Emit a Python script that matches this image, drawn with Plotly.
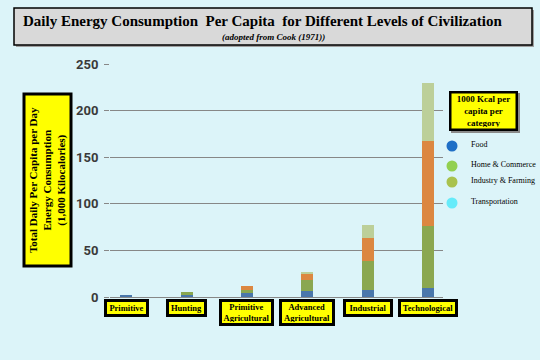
import plotly.graph_objects as go

categories = ["Primitive", "Hunting", "Primitive<br>Agricultural", "Advanced<br>Agricultural",
              "Industrial", "Technological"]
cat_keys = ["Primitive", "Hunting", "Primitive Agricultural", "Advanced Agricultural",
            "Industrial", "Technological"]
series_names = ["Food", "Home & Commerce", "Industry & Farming", "Transportation"]
food = [2, 3, 4, 6, 7, 10]
home_commerce = [0, 2, 4, 12, 32, 66]
industry_farming = [0, 0, 4, 7, 24, 91]
transportation = [0, 0, 0, 1, 14, 63]
y_ticks = [0, 50, 100, 150, 200, 250]

bar_colors = ["#4a77ab", "#8aa750", "#dc8741", "#bccf99"]
legend_colors = ["#1f6fc6", "#92d050", "#a9c24e", "#66ebfa"]
BG = "#dcf4f9"
SERIF = "Liberation Serif, Times New Roman, serif"

# pixel helpers (plot area: x 110..443, y 64..297)
L, R, T, B = 110, 443, 64, 297
def px(x):
    return (x - L) / (R - L)
def py(y):
    return (B - y) / (B - T)

fig = go.Figure()
for name, vals, col in zip(series_names, [food, home_commerce, industry_farming, transportation], bar_colors):
    fig.add_trace(go.Bar(x=cat_keys, y=vals, name=name, marker=dict(color=col, line=dict(width=0)),
                         width=0.2, showlegend=False, hoverinfo="skip"))

shapes = []
annotations = []

def ann(**kw):
    kw.setdefault("xanchor", "center")
    kw.setdefault("yanchor", "middle")
    kw.setdefault("showarrow", False)
    annotations.append(kw)

# title box with shadow
shapes.append(dict(type="rect", xref="paper", yref="paper", x0=px(16), x1=px(534), y0=py(47), y1=py(10),
                   fillcolor="#a0a0a0", line=dict(width=0), layer="below"))
shapes.append(dict(type="rect", xref="paper", yref="paper", x0=px(14), x1=px(532), y0=py(45), y1=py(8),
                   fillcolor="#d9d9d9", line=dict(color="black", width=1.5), layer="below"))
ann(xref="paper", yref="paper", x=px(262), y=py(21),
    text="Daily Energy Consumption  Per Capita  for Different Levels of Civilization",
    font=dict(family=SERIF, size=15, color="black", weight="bold"))
ann(xref="paper", yref="paper", x=px(273), y=py(37),
    text="(adopted from Cook (1971))",
    font=dict(family=SERIF, size=9, color="black", weight="bold", style="italic"))

# y-axis title box
ann(xref="paper", yref="paper", x=px(47), y=py(180.5),
    textangle=-90, width=167, height=42, bgcolor="#ffff00", bordercolor="black",
    borderwidth=3, borderpad=1,
    text="Total Daily Per Capita per Day<br>Energy Consumption<br>(1,000 Kilocalories)",
    font=dict(family=SERIF, size=11, color="black", weight="bold"))

# category label boxes
box_w = [45, 41, 55, 56, 50, 60]
box_h = [18, 18, 27, 27, 18, 18]
for cat, lab, w, h in zip(cat_keys, categories, box_w, box_h):
    ann(xref="x", yref="paper", x=cat, y=py(299), yanchor="top",
        width=w - 8, height=h - 8, bgcolor="#ffff00", bordercolor="black",
        borderwidth=3, borderpad=1, text=lab,
        font=dict(family=SERIF, size=8.5, color="black", weight="bold"))

# legend title box
shapes.append(dict(type="rect", xref="paper", yref="paper", x0=px(451), x1=px(520), y0=py(133), y1=py(93),
                   fillcolor="#8a8a8a", line=dict(width=0)))
ann(xref="paper", yref="paper", x=px(483.5), y=py(111),
    width=61, height=32, bgcolor="#ffff00", bordercolor="black",
    borderwidth=2.5, borderpad=1.5,
    text="1000 Kcal per<br>capita per<br>category",
    font=dict(family=SERIF, size=9, color="black", weight="bold"))

# custom legend
leg_y = [146, 166, 182, 203]
for name, col, yy in zip(series_names, legend_colors, leg_y):
    shapes.append(dict(type="circle", xref="paper", yref="paper", x0=px(446.5), x1=px(457.5),
                       y0=py(yy + 5.5), y1=py(yy - 5.5), fillcolor=col, line=dict(width=0)))
    ann(xref="paper", yref="paper", x=px(469), y=py(yy - 2), xanchor="left",
        text=name.replace("&", "&amp;"),
        font=dict(family=SERIF, size=8, color="black"))

fig.update_layout(
    width=540, height=360,
    margin=dict(l=L, r=540 - R, t=T, b=360 - B, pad=0),
    paper_bgcolor=BG, plot_bgcolor=BG,
    barmode="stack", bargap=0,
    showlegend=False,
    shapes=shapes, annotations=annotations,
    xaxis=dict(type="category", range=[-0.27, 5.25], showticklabels=False, showgrid=False,
               showline=True, linecolor="#878787", linewidth=1, ticks="", fixedrange=True),
    yaxis=dict(range=[0, 250], tickvals=y_ticks, showgrid=True, gridcolor="#878787", gridwidth=1,
               zeroline=False, showline=False, ticks="outside", ticklen=5, tickcolor="#878787",
               tickfont=dict(family="Roboto", size=13, color="#3a3a3a", weight="bold"),
               ticklabelstandoff=3, fixedrange=True),
)

fig.write_html("out.html", config={"displayModeBar": False},
               post_script="document.body.style.margin='0';document.body.style.background='" + BG + "';")
